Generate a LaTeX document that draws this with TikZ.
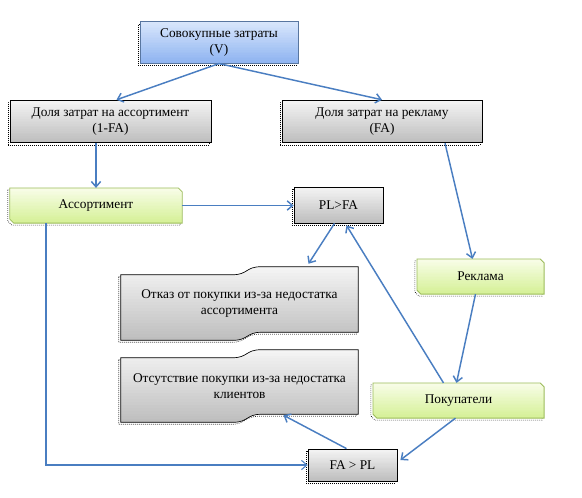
\documentclass[tikz,border=0pt]{standalone}
\usepackage{fontspec}
\setmainfont{Liberation Serif}
\usepackage{xcolor}
\usepackage{tikz}
\usetikzlibrary{arrows.meta, calc, backgrounds}
\definecolor{LineBlue}{RGB}{74, 126, 193}
\definecolor{TopLight}{RGB}{216, 230, 252}
\definecolor{TopDark}{RGB}{140, 178, 240}
\definecolor{TopEdge}{RGB}{88, 118, 160}
\definecolor{GreyLight}{RGB}{244, 244, 244}
\definecolor{GreyDark}{RGB}{188, 188, 188}
\definecolor{GreenLight}{RGB}{248, 253, 232}
\definecolor{GreenDark}{RGB}{212, 240, 148}
\definecolor{GreenEdge}{RGB}{155, 187, 89}

% wave-shaped box drawn round a named node
\newcommand{\wave}[1]{%
  \path[wavebox] ($(#1.north west)+(0,-8)$) -- ($(#1.north west)+(112,-8)$)
    .. controls ($(#1.north west)+(127,-8)$) and ($(#1.north west)+(125,0)$) .. ($(#1.north west)+(140,0)$)
    -- (#1.north east) -- ($(#1.south east)+(0,8)$) -- ($(#1.south east)+(-97,8)$)
    .. controls ($(#1.south east)+(-112,8)$) and ($(#1.south east)+(-110,0)$) .. ($(#1.south east)+(-125,0)$)
    -- (#1.south west) -- cycle;}
% box with two snipped corners drawn round a named node
\newcommand{\snip}[1]{%
  \path[snipbox] (#1.north west) -- ($(#1.north east)+(-4,0)$) -- ($(#1.north east)+(0,-4)$)
    -- (#1.south east) -- ($(#1.south west)+(4,0)$) -- ($(#1.south west)+(0,4)$) -- cycle;}

\begin{document}
\begin{tikzpicture}[
        x=0.75pt, y=0.75pt,
        every node/.style={font=\fontsize{10}{12.5}\selectfont, align=center, inner sep=1pt},
        dotshadow/.style={preaction={draw=black, densely dotted, line width=0.5pt, transform canvas={shift={(-1.5pt,-1.5pt)}}}},
        % top-to-bottom fade made of thin strips
        fade/.style 2 args={path picture={
            \foreach \k in {0,...,24}{
                \pgfmathtruncatemacro\pc{100-4*\k}
                \fill[#1!\pc!#2] ($(path picture bounding box.north west)!{\k/25}!(path picture bounding box.south west)$)
                    rectangle ($(path picture bounding box.north east)!{(\k+1.3)/25}!(path picture bounding box.south east)$);
            }}},
        topbox/.style={dotshadow, draw=TopEdge, line width=0.6pt, fill=white, fade={TopLight}{TopDark}, minimum width=118.5pt, minimum height=31pt},
        greybox/.style={dotshadow, draw=black, line width=0.6pt, fill=white, fade={GreyLight}{GreyDark}, minimum height=32pt},
        greenbox/.style={minimum height=26pt},
        snipbox/.style={dotshadow, draw=GreenEdge, line width=0.6pt, fill=white, fade={GreenLight}{GreenDark}},
        wavebox/.style={dotshadow, draw=black, line width=0.5pt, fill=white, fade={GreyLight}{GreyDark}},
        link/.style={-{Straight Barb[length=4pt, width=7pt]}, LineBlue, line width=1.1pt}
    ]
    \useasboundingbox (0,0) rectangle (582,-497);

    % Затраты
    \node[topbox] (total) at (219,-42.5) {Совокупные затраты\\(V)};
    \node[greybox, minimum width=150.75pt] (share1) at (110.5,-121.5) {Доля затрат на ассортимент\\(1-FA)};
    \node[greybox, minimum width=150pt] (share2) at (382,-121.5) {Доля затрат на рекламу\\(FA)};

    % Ассортимент и реклама
    \node[greenbox, minimum width=129pt] (assort) at (96,-205.5) {Ассортимент};
    \node[greenbox, minimum width=95pt] (advert) at (480.5,-276.5) {Реклама};
    \node[greenbox, minimum width=128pt] (buyers) at (458.5,-400.5) {Покупатели};

    % Сравнения
    \node[greybox, minimum width=66.75pt, minimum height=27pt] (plfa) at (338.5,-205) {PL>FA};
    \node[greybox, minimum width=66.75pt, minimum height=24pt] (fapl) at (352.5,-465) {FA > PL};

    % Итоги (волна)
    \node[minimum width=177.75pt, minimum height=54.75pt] (refuse) at (239.5,-303.5) {Отказ от покупки из-за недостатка\\ассортимента};
    \node[minimum width=177.75pt, minimum height=54pt] (absent) at (239.5,-386) {Отсутствие покупки из-за недостатка\\клиентов};
    \begin{pgfonlayer}{background}
        \wave{refuse}
        \wave{absent}
        \snip{assort}
        \snip{advert}
        \snip{buyers}
    \end{pgfonlayer}

    % Связи
    \draw[link] (total.south) -- ($(share1.north)+(6,0)$);
    \draw[link] (total.south) -- (share2.north);
    \draw[link] (assort.north |- share1.south) -- (assort.north);
    \draw[link] ($(share2.south)+(63,0)$) -- ($(advert.north)+(-8,0)$);
    \draw[link] (assort.east) -- (plfa.west |- assort.east);
    \draw[link] ($(plfa.south)+(-4,0)$) -- ($(refuse.north)+(69,3)$);
    \draw[link] ($(advert.south)+(-5,0)$) -- ($(buyers.north)+(-2,0)$);
    \draw[link] ($(buyers.north)+(-15,0)$) -- ($(plfa.south)+(8,-2)$);
    \draw[link] ($(buyers.south)+(-3,0)$) -- ($(fapl.east)+(3,5)$);
    \draw[link] ($(fapl.north)+(-6,0)$) -- ($(absent.south)+(44,7)$);
    \draw[link, line width=0.8pt] ($(assort.south)+(-50,0)$) |- (fapl.west);
\end{tikzpicture}
\end{document}
